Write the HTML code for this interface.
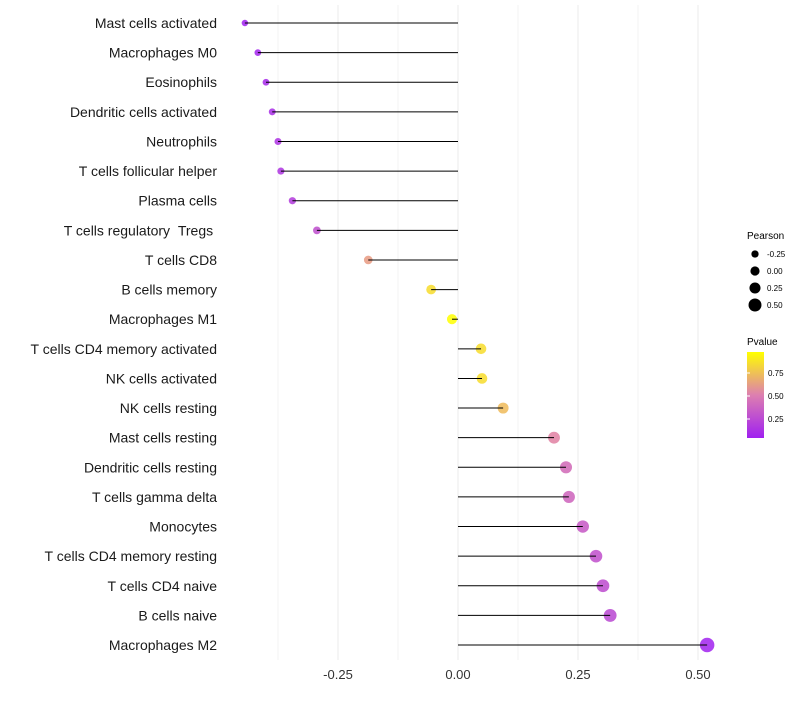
<!DOCTYPE html>
<html><head><meta charset="utf-8"><style>
body{margin:0;background:#fff;font-family:"Liberation Sans",sans-serif}
</style></head><body>
<svg id="c" width="800" height="700" xmlns="http://www.w3.org/2000/svg" font-family="Liberation Sans, sans-serif">
<defs><linearGradient id="pg" x1="0" y1="1" x2="0" y2="0">
<stop offset="0" stop-color="#a020f0"/><stop offset="0.5" stop-color="#dd7fb0"/><stop offset="1" stop-color="#ffff00"/></linearGradient></defs>
<g id="grid"></g>
<g id="marks"></g>
<g id="stems"></g>
<g id="legend">
<text x="747" y="239" font-size="10">Pearson</text>
<text x="747" y="345" font-size="10">Pvalue</text>
<rect x="747" y="352" width="17" height="86" fill="url(#pg)"/>
</g>
</svg>
<script>
const categories=["Mast cells activated","Macrophages M0","Eosinophils","Dendritic cells activated","Neutrophils","T cells follicular helper","Plasma cells","T cells regulatory\u00a0\u00a0Tregs\u00a0","T cells CD8","B cells memory","Macrophages M1","T cells CD4 memory activated","NK cells activated","NK cells resting","Mast cells resting","Dendritic cells resting","T cells gamma delta","Monocytes","T cells CD4 memory resting","T cells CD4 naive","B cells naive","Macrophages M2"];
const pearson=[-0.444,-0.417,-0.40,-0.387,-0.375,-0.369,-0.345,-0.294,-0.187,-0.056,-0.0125,0.048,0.05,0.094,0.2,0.225,0.231,0.26,0.2875,0.302,0.317,0.519];
const pvalue=[0.04,0.06,0.08,0.1,0.12,0.13,0.16,0.25,0.6,0.85,0.98,0.85,0.85,0.72,0.5,0.38,0.35,0.3,0.26,0.24,0.22,0.05];
const xTicks=[-0.25,0,0.25,0.5];
const xTickLabels=["-0.25","0.00","0.25","0.50"];
const sizeLegend=[-0.25,0,0.25,0.5];
const colorTicks=[0.25,0.5,0.75];
const NS="http://www.w3.org/2000/svg";
const svg=document.getElementById('c'),grid=document.getElementById('grid'),marks=document.getElementById('marks'),stems=document.getElementById('stems'),leg=document.getElementById('legend');
const X=v=>458+v*480;
const Y=i=>23+i*29.62;
const R=v=>3.2+(v+0.45)*4.2;
function mix(a,b,t){return a.map((x,i)=>Math.round(x+(b[i]-x)*t));}
function col(p){const t=(p-0.04)/0.94;const P=[160,32,240],M=[226,130,160],Yc=[255,255,0];
 const c=t<0.5?mix(P,M,t/0.5):mix(M,Yc,(t-0.5)/0.5);return `rgb(${c})`;}
function el(t,a,parent){const e=document.createElementNS(NS,t);for(const k in a)e.setAttribute(k,a[k]);parent.appendChild(e);return e;}
for(let g=-0.375;g<=0.56;g+=0.125){const l=el('line',{x1:X(g),x2:X(g),y1:5,y2:660,stroke:Math.abs(g*4-Math.round(g*4))<1e-6?'#ebebeb':'#f3f3f3','stroke-width':1},grid);

}
xTicks.forEach((v,i)=>{const t=el('text',{x:X(v),y:679,'font-size':13,'text-anchor':'middle',fill:'#333'},svg);t.textContent=xTickLabels[i];

});
categories.forEach((c,i)=>{const y=Y(i);
const t=el('text',{x:217,y:y+5,'font-size':14,'text-anchor':'end',fill:'#1a1a1a'},svg);t.textContent=c;


const d=el('circle',{cx:X(pearson[i]),cy:y,r:R(pearson[i]),fill:col(pvalue[i]),'fill-opacity':0.85},marks);


const l=el('line',{x1:X(0),x2:X(pearson[i]),y1:y,y2:y,stroke:'#000','stroke-width':1},stems);

});
sizeLegend.forEach((v,i)=>{const y=254+i*17;
const d=el('circle',{cx:755,cy:y,r:R(v)*0.9,fill:'#000'},leg);


const t=el('text',{x:767,y:y+3,'font-size':8},leg);t.textContent=v.toFixed(2);

});
colorTicks.forEach(v=>{const y=419-(v-0.25)*92;
const t=el('text',{x:768,y:y+3,'font-size':8},leg);t.textContent=v.toFixed(2);


const l=el('line',{x1:747,x2:750,y1:y,y2:y,stroke:'#fff'},leg);

});
</script>
</body></html>
